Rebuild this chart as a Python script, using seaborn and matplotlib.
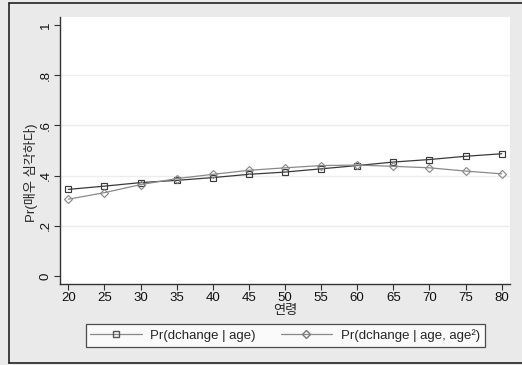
import matplotlib
matplotlib.use("Agg")
import matplotlib.pyplot as plt
from matplotlib.lines import Line2D
import seaborn as sns
import pandas as pd

ages = [20, 25, 30, 35, 40, 45, 50, 55, 60, 65, 70, 75, 80]
pr_linear = [0.345, 0.358, 0.372, 0.381, 0.392, 0.405, 0.414, 0.427, 0.440, 0.454, 0.464, 0.477, 0.487]
pr_quad = [0.306, 0.332, 0.364, 0.388, 0.405, 0.421, 0.431, 0.440, 0.442, 0.437, 0.431, 0.418, 0.407]
series_names = ["Pr(dchange | age)", "Pr(dchange | age, age²)"]
y_ticks = [0, 0.2, 0.4, 0.6, 0.8, 1.0]
y_ticklabels = ["0", ".2", ".4", ".6", ".8", "1"]
x_ticks = [20, 25, 30, 35, 40, 45, 50, 55, 60, 65, 70, 75, 80]

sns.set_theme(style="white")
plt.rcParams["font.family"] = ["Liberation Sans", "Noto Sans CJK KR", "DejaVu Sans"]

bg = "#EAEAEA"
fig = plt.figure(figsize=(5.22, 3.65), dpi=100, facecolor=bg)
ax = fig.add_axes([60 / 522, 1 - 284 / 365, 450 / 522, 267 / 365])
ax.set_facecolor("white")

df = pd.concat([
    pd.DataFrame({"age": ages, "pr": pr_linear, "model": series_names[0]}),
    pd.DataFrame({"age": ages, "pr": pr_quad, "model": series_names[1]}),
])

colors = {series_names[0]: "#3a3a3a", series_names[1]: "#8a8a8a"}
markers = {series_names[0]: "s", series_names[1]: "D"}
for name in series_names:
    sub = df[df["model"] == name]
    ms = 5.0 if markers[name] == "s" else 4.2
    sns.lineplot(data=sub, x="age", y="pr", ax=ax, color=colors[name],
                 marker=markers[name], markersize=ms, markerfacecolor="none",
                 markeredgecolor=colors[name], markeredgewidth=0.85,
                 linewidth=0.9, label=name, legend=False)

ax.set_xlim(18.85, 81.15)
ax.set_ylim(-0.032, 1.032)
ax.set_xticks(x_ticks)
ax.set_xticklabels([str(v) for v in x_ticks], fontsize=9.5)
ax.set_yticks(y_ticks)
ax.set_yticklabels(y_ticklabels, fontsize=9.5, rotation=90, va="center")

for v in [0.2, 0.4, 0.6, 0.8]:
    ax.axhline(v, color="#EDEDED", linewidth=1.0, zorder=0)

for s in ["top", "right"]:
    ax.spines[s].set_visible(False)
for s in ["left", "bottom"]:
    ax.spines[s].set_color("#333333")
    ax.spines[s].set_linewidth(1.0)
ax.tick_params(axis="both", which="major", direction="out", length=4,
               width=0.8, color="#333333", labelcolor="#111111", pad=2,
               bottom=True, left=True)

ax.set_xlabel("연령", fontsize=9.5)
ax.xaxis.set_label_coords(0.5, -0.078)
ax.set_ylabel("Pr(매우 심각하다)", fontsize=9.5)
ax.yaxis.set_label_coords(-0.05, 0.416)

handles = [
    Line2D([], [], color="#8a8a8a", linewidth=0.9, marker="s", markersize=4.5,
           markerfacecolor="none", markeredgecolor="#555555"),
    Line2D([], [], color="#8a8a8a", linewidth=0.9, marker="D", markersize=4,
           markerfacecolor="none", markeredgecolor="#777777"),
]
leg = fig.legend(handles, series_names, loc="center", ncol=2,
                 bbox_to_anchor=(285 / 522, 1 - 335.5 / 365),
                 fontsize=9.5, frameon=True, fancybox=False, numpoints=1,
                 handlelength=3.9, handletextpad=0.65, columnspacing=1.9,
                 borderpad=0.35, borderaxespad=0)
leg.get_frame().set_edgecolor("#222222")
leg.get_frame().set_linewidth(0.9)
leg.get_frame().set_facecolor("white")

# outer frame (Stata graph border)
fig.add_artist(Line2D([9 / 522, 9 / 522], [1 - 3 / 365, 1 - 362.5 / 365],
                      transform=fig.transFigure, color="#222222", linewidth=1.2))
fig.add_artist(Line2D([9 / 522, 1.0], [1 - 3 / 365, 1 - 3 / 365],
                      transform=fig.transFigure, color="#222222", linewidth=1.2))
fig.add_artist(Line2D([9 / 522, 1.0], [1 - 362.5 / 365, 1 - 362.5 / 365],
                      transform=fig.transFigure, color="#222222", linewidth=1.2))

fig.savefig("out.png", dpi=100, facecolor=bg)
